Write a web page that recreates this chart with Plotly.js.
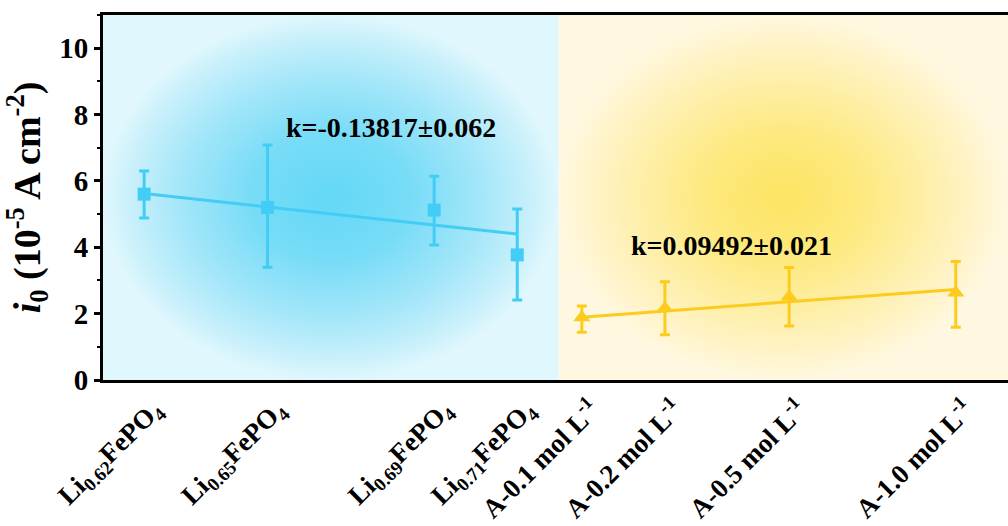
<!DOCTYPE html>
<html>
<head>
<meta charset="utf-8">
<script src="https://cdn.plot.ly/plotly-3.0.1.min.js"></script>
<style>html,body{margin:0;padding:0;background:#fff;}#chart{width:1008px;height:526px;}</style>
</head>
<body>
<div id="chart"></div>
<script>
// Category labels and their positions on the x axis
const liLabels = ['Li<sub>0.62</sub>FePO<sub>4</sub>','Li<sub>0.65</sub>FePO<sub>4</sub>','Li<sub>0.69</sub>FePO<sub>4</sub>','Li<sub>0.71</sub>FePO<sub>4</sub>'];
const aLabels = ['A-0.1 mol L<sup>-1</sup>','A-0.2 mol L<sup>-1</sup>','A-0.5 mol L<sup>-1</sup>','A-1.0 mol L<sup>-1</sup>'];
const liX = [1, 4, 8.05, 10.07];
const aX = [11.64, 13.66, 16.68, 20.73];

// i0 values (10^-5 A cm^-2) and error bars
const liY = [5.6, 5.2, 5.12, 3.77];
const liErrPlus = [0.7, 1.88, 1.02, 1.38];
const liErrMinus = [0.72, 1.8, 1.05, 1.36];
const aY = [1.88, 2.16, 2.51, 2.63];
const aErrPlus = [0.35, 0.8, 0.88, 0.94];
const aErrMinus = [0.44, 0.8, 0.88, 1.04];

// Linear fit lines (endpoints)
const liFitY = [5.62, 4.4];
const aFitY = [1.89, 2.73];

// Slope annotations
const liSlope = 'k=-0.13817±0.062';
const aSlope = 'k=0.09492±0.021';

// Axis extents / region split
const xMin = 0, xMax = 22, xSplit = 11.08, yMin = 0, yMax = 11;

const blue = '#43cdf5';
const yellow = '#fccb1d';

const traces = [
  {x:[xMin,xSplit,xSplit,xMin,xMin], y:[yMin,yMin,yMax,yMax,yMin], mode:'none', fill:'toself',
   fillgradient:{type:'radial', colorscale:[[0,'#62d8f7'],[0.35,'#78dcf7'],[0.65,'#a2e6f9'],[0.88,'#c8f0fb'],[1,'#e0f7fd']]}, hoverinfo:'skip', showlegend:false},
  {x:[xSplit,xMax,xMax,xSplit,xSplit], y:[yMin,yMin,yMax,yMax,yMin], mode:'none', fill:'toself',
   fillgradient:{type:'radial', colorscale:[[0,'#fde462'],[0.35,'#fde97f'],[0.65,'#feefaa'],[0.88,'#fff4cc'],[1,'#fff8e0']]}, hoverinfo:'skip', showlegend:false},
  {x:[liX[0], liX[3]], y:liFitY, mode:'lines', line:{color:blue, width:3}, showlegend:false},
  {x:[aX[0], aX[3]], y:aFitY, mode:'lines', line:{color:yellow, width:3}, showlegend:false},
  {x:liX, y:liY, mode:'markers', marker:{symbol:'square', size:13, color:blue},
   error_y:{type:'data', symmetric:false, array:liErrPlus, arrayminus:liErrMinus, color:blue, thickness:3, width:5}, showlegend:false},
  {x:aX, y:aY, mode:'markers', marker:{symbol:'triangle-up', size:15, color:yellow},
   error_y:{type:'data', symmetric:false, array:aErrPlus, arrayminus:aErrMinus, color:yellow, thickness:3, width:5}, showlegend:false}
];

const font = {family:'"Liberation Serif", "Times New Roman", serif', color:'#000'};

const layout = {
  width:1008, height:526,
  margin:{l:103, r:0, t:15, b:146},
  paper_bgcolor:'#fff', plot_bgcolor:'#fff',
  font:font,
  xaxis:{range:[xMin,xMax], tickvals:liX.concat(aX), ticktext:liLabels.concat(aLabels).map(s=>'<b>'+s+'</b>'),
    tickangle:-45, tickfont:{family:font.family, size:27, color:'#000'}, ticklabelshift:10, showgrid:false, zeroline:false,
    showline:true, linecolor:'#000', linewidth:3, mirror:true, ticks:'', ticklen:0},
  yaxis:{range:[yMin,yMax], tickvals:[0,2,4,6,8,10], ticktext:['<b>0</b>','<b>2</b>','<b>4</b>','<b>6</b>','<b>8</b>','<b>10</b>'],
    tickfont:{family:font.family, size:29, color:'#000'}, showgrid:false, zeroline:false,
    showline:true, linecolor:'#000', linewidth:3, ticks:'outside', ticklen:6, tickwidth:3, tickcolor:'#000',
    minor:{tickvals:[1,3,5,7,9,11], ticks:'outside', ticklen:3, tickwidth:2, tickcolor:'#000'},
    title:{text:'<b><i>i</i><sub>0</sub> (10<sup>-5</sup> A cm<sup>-2</sup>)</b>', font:{family:font.family, size:38, color:'#000'}, standoff:8}},
  annotations:[
    {x:7.0, y:7.6, xref:'x', yref:'y', text:'<b>'+liSlope+'</b>', showarrow:false, font:{family:font.family, size:28, color:'#000'}},
    {x:15.27, y:4.06, xref:'x', yref:'y', text:'<b>'+aSlope+'</b>', showarrow:false, font:{family:font.family, size:28, color:'#000'}}
  ]
};

Plotly.newPlot('chart', traces, layout, {displayModeBar:false, staticPlot:true});
</script>
</body>
</html>
